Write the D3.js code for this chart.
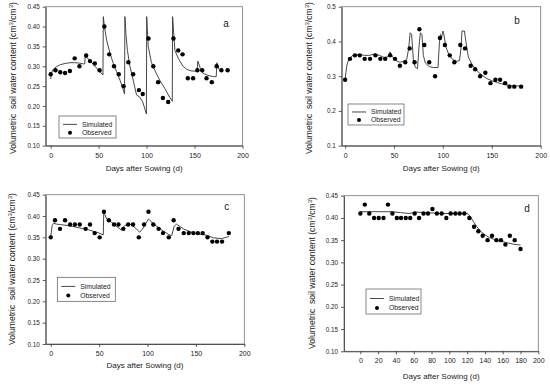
<!DOCTYPE html>
<html>
<head>
<meta charset="utf-8">
<script src="https://cdn.jsdelivr.net/npm/d3@7"></script>
<style>
  body { margin: 0; background: #fff; }
  text { font-family: "Liberation Sans", Arial, sans-serif; fill: #222; }
</style>
</head>
<body>
<div id="chart"></div>
<script>
// ---- data ----
// panel a
const aObsDay = [0, 5, 10, 15, 20, 25, 30, 37, 41, 46, 51, 56, 61, 66, 71, 76, 81, 86, 92, 96, 102, 107, 112, 117, 122.5, 128, 133, 137.5, 143, 148.5, 153, 158, 162.5, 168, 173, 178, 184.5];
const aObsVal = [0.28, 0.29, 0.285, 0.283, 0.288, 0.32, 0.30, 0.327, 0.313, 0.307, 0.29, 0.40, 0.33, 0.30, 0.28, 0.25, 0.31, 0.28, 0.24, 0.23, 0.37, 0.30, 0.26, 0.22, 0.21, 0.37, 0.34, 0.33, 0.27, 0.27, 0.29, 0.29, 0.27, 0.26, 0.30, 0.29, 0.29];
const aSimDay = [0, 1, 3, 6, 10, 15, 20, 25, 30, 34, 35.5, 36, 40, 45, 50, 54.5, 54.9, 56, 58.3, 61.8, 65.3, 68.8, 72.3, 75.8, 77, 77.4, 78.5, 80, 82.6, 86, 89.5, 93, 96, 99.8, 100.1, 101.7, 105, 108.5, 113.7, 119, 124, 126.8, 127.1, 129.5, 133, 138, 142, 147, 152.5, 153.5, 156, 159, 164, 169.5, 172.6, 173.3, 175.5];
const aSimVal = [0.268, 0.285, 0.293, 0.299, 0.304, 0.307, 0.309, 0.309, 0.308, 0.306, 0.306, 0.325, 0.317, 0.303, 0.29, 0.278, 0.425, 0.40, 0.366, 0.333, 0.307, 0.286, 0.265, 0.24, 0.23, 0.425, 0.38, 0.34, 0.30, 0.265, 0.228, 0.222, 0.21, 0.18, 0.425, 0.35, 0.31, 0.29, 0.265, 0.244, 0.222, 0.212, 0.425, 0.34, 0.32, 0.30, 0.292, 0.288, 0.288, 0.313, 0.295, 0.282, 0.277, 0.274, 0.274, 0.309, 0.292];
const aXTicks = [0, 50, 100, 150, 200];
const aYTicks = [0.10, 0.15, 0.20, 0.25, 0.30, 0.35, 0.40, 0.45];

// panel b
const bObsDay = [0, 5, 10, 15, 20, 25.5, 31, 36, 41, 46, 51, 56, 61.5, 66, 71, 76, 81, 86, 92, 97, 102, 107, 111.7, 117.8, 122.6, 128.4, 133, 138, 143.4, 148.6, 153.7, 158.5, 163.6, 168, 173, 180];
const bObsVal = [0.29, 0.35, 0.36, 0.36, 0.35, 0.35, 0.36, 0.35, 0.35, 0.36, 0.35, 0.33, 0.34, 0.38, 0.34, 0.435, 0.39, 0.34, 0.30, 0.41, 0.39, 0.36, 0.34, 0.39, 0.38, 0.33, 0.32, 0.30, 0.31, 0.28, 0.29, 0.29, 0.28, 0.27, 0.27, 0.27];
const bSimDay = [0, 0.8, 2, 4, 7, 10, 15, 20, 25, 30, 35, 40, 44, 46, 48, 52, 56, 60, 63, 65, 66.5, 68, 70, 72, 74, 76, 77, 78.5, 80, 82, 86, 90, 95, 96.5, 97.5, 98.5, 100, 101, 103, 106, 110, 114, 117, 118.5, 119.5, 122, 123.5, 126, 130, 135, 140, 145, 150, 155, 160, 165, 170, 175, 180];
const bSimVal = [0.29, 0.31, 0.335, 0.35, 0.358, 0.362, 0.362, 0.36, 0.36, 0.364, 0.36, 0.354, 0.356, 0.37, 0.358, 0.345, 0.34, 0.343, 0.348, 0.38, 0.425, 0.42, 0.34, 0.325, 0.322, 0.40, 0.425, 0.42, 0.36, 0.338, 0.328, 0.325, 0.325, 0.40, 0.42, 0.41, 0.43, 0.42, 0.385, 0.362, 0.348, 0.343, 0.345, 0.38, 0.43, 0.43, 0.40, 0.355, 0.333, 0.315, 0.303, 0.293, 0.287, 0.282, 0.278, 0.275, 0.273, 0.272, 0.272];
const bXTicks = [0, 50, 100, 150, 200];
const bYTicks = [0.1, 0.2, 0.3, 0.4, 0.5];

// panel c
const cObsDay = [0, 4.4, 9.6, 14.8, 20, 25, 30, 36, 40.6, 45.4, 50.6, 55, 60, 65.4, 70, 75, 80, 85, 91, 96.4, 101, 106, 111.5, 116, 122, 127, 132, 137.4, 142.6, 147.4, 152, 157, 162, 167, 171.8, 177, 184];
const cObsVal = [0.35, 0.39, 0.37, 0.39, 0.38, 0.38, 0.38, 0.37, 0.38, 0.36, 0.35, 0.41, 0.39, 0.38, 0.38, 0.37, 0.38, 0.38, 0.35, 0.38, 0.41, 0.38, 0.37, 0.36, 0.35, 0.39, 0.37, 0.36, 0.36, 0.36, 0.36, 0.36, 0.35, 0.34, 0.34, 0.34, 0.36];
const cSimDay = [0, 1.5, 3, 6, 10, 20, 30, 40, 50, 54.3, 54.8, 57.8, 63, 69.6, 73, 76.5, 82, 87, 92, 95.5, 101, 106, 113, 121.6, 125, 127.5, 130, 137, 147.5, 161, 168, 176.6, 184];
const cSimVal = [0.352, 0.378, 0.383, 0.381, 0.380, 0.377, 0.372, 0.367, 0.360, 0.356, 0.41, 0.393, 0.385, 0.373, 0.367, 0.378, 0.381, 0.373, 0.362, 0.372, 0.393, 0.382, 0.37, 0.357, 0.354, 0.376, 0.381, 0.37, 0.36, 0.355, 0.349, 0.347, 0.352];
const cXTicks = [0, 50, 100, 150, 200];
const cYTicks = [0.10, 0.15, 0.20, 0.25, 0.30, 0.35, 0.40, 0.45];

// panel d
const dObsDay = [0, 5, 10, 15.4, 20.6, 26, 31, 36, 41, 45.7, 51, 56, 61, 66, 71, 76, 81, 86, 91.4, 96.6, 101.5, 106.8, 111.6, 116.9, 122.5, 127.8, 132.6, 137.5, 143, 148, 153, 158, 163, 168, 173.5, 180];
const dObsVal = [0.41, 0.43, 0.41, 0.40, 0.40, 0.40, 0.43, 0.41, 0.40, 0.40, 0.40, 0.40, 0.41, 0.40, 0.41, 0.41, 0.42, 0.41, 0.41, 0.40, 0.41, 0.41, 0.41, 0.41, 0.40, 0.38, 0.37, 0.36, 0.35, 0.36, 0.35, 0.35, 0.34, 0.36, 0.35, 0.33];
const dSimDay = [0, 20, 35, 45, 55, 62, 75, 90, 100, 110, 120, 123, 127, 131, 135, 140, 145, 150, 157, 165, 172, 180];
const dSimVal = [0.414, 0.414, 0.414, 0.412, 0.41, 0.413, 0.412, 0.41, 0.41, 0.41, 0.41, 0.405, 0.392, 0.38, 0.37, 0.362, 0.356, 0.352, 0.348, 0.344, 0.341, 0.339];
const dXTicks = [0, 20, 40, 60, 80, 100, 120, 140, 160, 180, 200];
const dYTicks = [0.10, 0.15, 0.20, 0.25, 0.30, 0.35, 0.40, 0.45];

// ---- layout ----
const width = 550;
const height = 385;

const panels = [
  { tag: "a", obsDay: aObsDay, obsVal: aObsVal, simDay: aSimDay, simVal: aSimVal,
    xTicks: aXTicks, yTicks: aYTicks, yFmt: ".2f", xDomain: [-5.2, 200], yDomain: [0.1, 0.45],
    box: { x0: 45.7, x1: 242.5, y0: 6.7, y1: 145.7 },
    legend: { x: 59, y: 116, w: 57, h: 22 }, tagPos: [226, 27], xTitleY: 171, yTitleX: 16, yTitleY: 78 },
  { tag: "b", obsDay: bObsDay, obsVal: bObsVal, simDay: bSimDay, simVal: bSimVal,
    xTicks: bXTicks, yTicks: bYTicks, yFmt: ".1f", xDomain: [-3.5, 200], yDomain: [0.1, 0.5],
    box: { x0: 341.7, x1: 540.7, y0: 6.7, y1: 145.7 },
    legend: { x: 348, y: 104, w: 56, h: 21 }, tagPos: [517, 24], xTitleY: 171, yTitleX: 312, yTitleY: 78 },
  { tag: "c", obsDay: cObsDay, obsVal: cObsVal, simDay: cSimDay, simVal: cSimVal,
    xTicks: cXTicks, yTicks: cYTicks, yFmt: ".2f", xDomain: [-5.2, 200], yDomain: [0.1, 0.45],
    box: { x0: 45.7, x1: 244.3, y0: 194.7, y1: 344 },
    legend: { x: 57.3, y: 277.3, w: 58, h: 24 }, tagPos: [226.7, 210], xTitleY: 368, yTitleX: 15, yTitleY: 269 },
  { tag: "d", obsDay: dObsDay, obsVal: dObsVal, simDay: dSimDay, simVal: dSimVal,
    xTicks: dXTicks, yTicks: dYTicks, yFmt: ".2f", xDomain: [-18.4, 200], yDomain: [0.1, 0.45],
    box: { x0: 344, x1: 538.3, y0: 195.7, y1: 351.3 },
    legend: { x: 366, y: 289, w: 55, h: 25 }, tagPos: [527, 212], xTitleY: 379, yTitleX: 315, yTitleY: 273 },
];

const svg = d3.select("#chart")
  .append("svg")
  .attr("width", width)
  .attr("height", height);

svg.append("rect").attr("width", width).attr("height", height).attr("fill", "#fff");

panels.forEach(drawPanel);

function drawPanel(p) {
  const b = p.box;
  const x = d3.scaleLinear().domain(p.xDomain).range([b.x0, b.x1]);
  const y = d3.scaleLinear().domain(p.yDomain).range([b.y1, b.y0]);
  const g = svg.append("g");

  // frame
  g.append("rect")
    .attr("x", b.x0).attr("y", b.y0)
    .attr("width", b.x1 - b.x0).attr("height", b.y1 - b.y0)
    .attr("fill", "none").attr("stroke", "#777").attr("stroke-width", 0.8);

  // axes
  g.append("g")
    .attr("transform", `translate(0,${b.y1})`)
    .call(d3.axisBottom(x).tickValues(p.xTicks).tickFormat(d3.format("d")).tickSize(3).tickSizeOuter(0).tickPadding(4))
    .call((a) => {
      a.select(".domain").attr("stroke", "#333").attr("stroke-width", 0.8);
      a.selectAll("line").attr("stroke", "#333").attr("stroke-width", 0.8);
      a.selectAll("text").attr("font-size", 7).attr("fill", "#222");
    });

  g.append("g")
    .attr("transform", `translate(${b.x0},0)`)
    .call(d3.axisLeft(y).tickValues(p.yTicks).tickFormat(d3.format(p.yFmt)).tickSize(3).tickSizeOuter(0).tickPadding(3))
    .call((a) => {
      a.select(".domain").attr("stroke", "#333").attr("stroke-width", 0.8);
      a.selectAll("line").attr("stroke", "#333").attr("stroke-width", 0.8);
      a.selectAll("text").attr("font-size", 6.3).attr("fill", "#222");
    });

  // simulated line
  const sim = p.simDay.map((d, i) => [d, p.simVal[i]]);
  g.append("path")
    .datum(sim)
    .attr("fill", "none")
    .attr("stroke", "#333")
    .attr("stroke-width", 0.9)
    .attr("d", d3.line().x((d) => x(d[0])).y((d) => y(d[1])));

  // observed points
  const obs = p.obsDay.map((d, i) => [d, p.obsVal[i]]);
  g.selectAll("circle.obs")
    .data(obs)
    .join("circle")
    .attr("class", "obs")
    .attr("cx", (d) => x(d[0]))
    .attr("cy", (d) => y(d[1]))
    .attr("r", 2.2)
    .attr("fill", "#000");

  // panel letter
  g.append("text")
    .attr("x", p.tagPos[0]).attr("y", p.tagPos[1])
    .attr("text-anchor", "middle")
    .attr("font-size", 10)
    .text(p.tag);

  // axis titles
  g.append("text")
    .attr("x", (b.x0 + b.x1) / 2)
    .attr("y", p.xTitleY)
    .attr("text-anchor", "middle")
    .attr("font-size", 8)
    .text("Days after Sowing (d)");

  const yt = g.append("text")
    .attr("transform", `translate(${p.yTitleX},${p.yTitleY}) rotate(-90)`)
    .attr("text-anchor", "middle")
    .attr("font-size", 8.6)
    .style("white-space", "pre");
  yt.append("tspan").text("Volumetric  soil water content (cm");
  yt.append("tspan").attr("font-size", 6).attr("dy", -3.3).text("3");
  yt.append("tspan").attr("dy", 3.3).text("/cm");
  yt.append("tspan").attr("font-size", 6).attr("dy", -3.3).text("3");
  yt.append("tspan").attr("dy", 3.3).text(")");

  // legend
  const L = p.legend;
  const lg = g.append("g").attr("transform", `translate(${L.x},${L.y})`);
  lg.append("rect")
    .attr("width", L.w).attr("height", L.h)
    .attr("fill", "#fff").attr("stroke", "#555").attr("stroke-width", 0.7);
  const r1 = L.h * 0.38;
  const r2 = L.h * 0.76;
  lg.append("line")
    .attr("x1", 4).attr("x2", 18).attr("y1", r1).attr("y2", r1)
    .attr("stroke", "#333").attr("stroke-width", 0.9);
  lg.append("circle").attr("cx", 11).attr("cy", r2).attr("r", 2).attr("fill", "#000");
  lg.append("text").attr("x", 23).attr("y", r1).attr("dy", "0.35em").attr("font-size", 6.8).text("Simulated");
  lg.append("text").attr("x", 23).attr("y", r2).attr("dy", "0.35em").attr("font-size", 6.8).text("Observed");
}
</script>
</body>
</html>
